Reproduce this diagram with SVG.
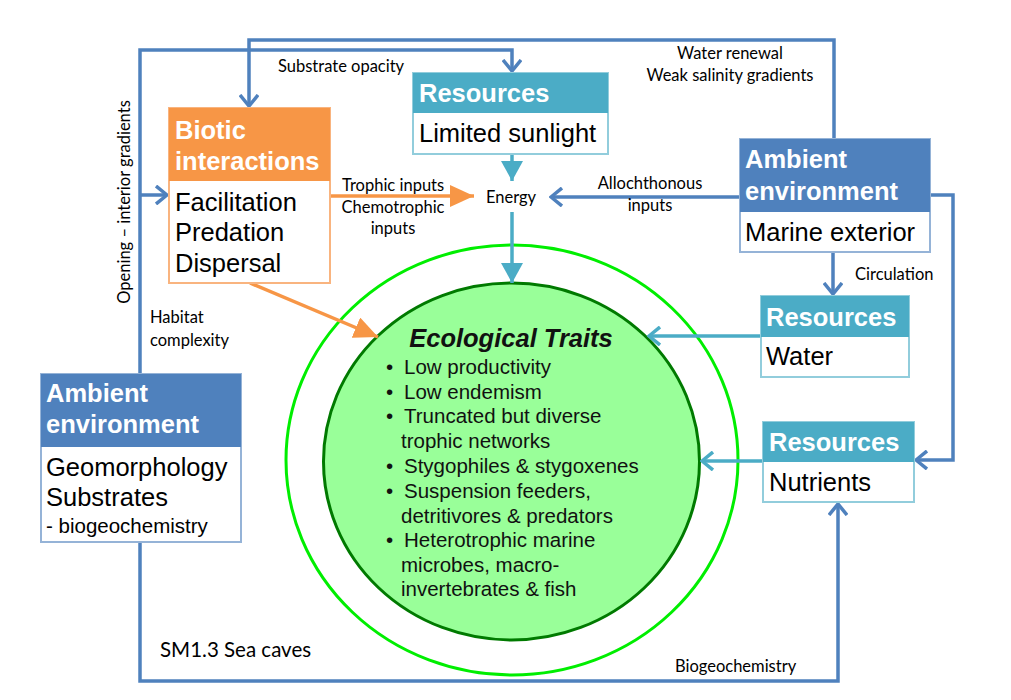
<svg xmlns="http://www.w3.org/2000/svg" width="1011" height="700" viewBox="0 0 1011 700">
<style>
.lbl{font-family:Lato,"Liberation Sans",sans-serif;font-size:16.5px;fill:#000}
.hdr{font-family:"Liberation Sans",Arial,sans-serif;font-size:25.5px;font-weight:bold;fill:#fff}
.body{font-family:"Liberation Sans",Arial,sans-serif;font-size:25.5px;fill:#000}
.trait{font-family:"Liberation Sans",Arial,sans-serif;font-size:20.5px;fill:#111}
.blue{fill:none;stroke:#4f81bd;stroke-width:3.5}
.teal{fill:none;stroke:#4bacc6;stroke-width:3.5}
.orange{fill:none;stroke:#f79646;stroke-width:3.5}
</style>
<defs>
<marker id="chevB" markerUnits="userSpaceOnUse" viewBox="0 0 14 20" refX="12" refY="10" markerWidth="14" markerHeight="20" orient="auto"><path d="M1,1 L12,10 L1,19" fill="none" stroke="#4f81bd" stroke-width="3.5"/></marker>
<marker id="chevT" markerUnits="userSpaceOnUse" viewBox="0 0 14 20" refX="12" refY="10" markerWidth="14" markerHeight="20" orient="auto"><path d="M1,1 L12,10 L1,19" fill="none" stroke="#4bacc6" stroke-width="3.5"/></marker>
<marker id="triT" markerUnits="userSpaceOnUse" viewBox="0 0 20 22" refX="20" refY="11" markerWidth="20" markerHeight="22" orient="auto"><path d="M0,0 L20,11 L0,22 Z" fill="#4bacc6"/></marker>
<marker id="triO" markerUnits="userSpaceOnUse" viewBox="0 0 24 22" refX="24" refY="11" markerWidth="24" markerHeight="22" orient="auto"><path d="M0,0 L24,11 L0,22 Z" fill="#f79646"/></marker>
</defs>

<g id="circles">
<ellipse cx="512" cy="460" rx="226" ry="215" fill="#fff" stroke="#00ee00" stroke-width="3"/>
<ellipse cx="511.5" cy="461.5" rx="188" ry="178.5" fill="#99ff99" stroke="#007a00" stroke-width="3"/>
</g>

<g id="connectors">
<path class="blue" d="M140,374 V50 H512 V71" marker-end="url(#chevB)"/>
<path class="blue" d="M140,195 H167" marker-end="url(#chevB)"/>
<path class="blue" d="M834,139 V40 H249 V106" marker-end="url(#chevB)"/>
<path class="blue" d="M740,197 H551" marker-end="url(#chevB)"/>
<path class="blue" d="M930,195 H953 V460 H916" marker-end="url(#chevB)"/>
<path class="blue" d="M833,252 V294" marker-end="url(#chevB)"/>
<path class="blue" d="M140,542 V681 H838 V504" marker-end="url(#chevB)"/>
<path class="teal" d="M512,154 V181" marker-end="url(#triT)"/>
<path class="teal" d="M512,212 V283" marker-end="url(#triT)"/>
<path class="teal" d="M761,336 H649" marker-end="url(#chevT)"/>
<path class="teal" d="M763,461 H702" marker-end="url(#chevT)"/>
<path class="orange" d="M330,196 H474" marker-end="url(#triO)"/>
<path class="orange" d="M250,283 L378,337" marker-end="url(#triO)"/>
</g>

<g id="labels">
<text class="lbl" x="278" y="72">Substrate opacity</text>
<text class="lbl" x="730" y="59" text-anchor="middle">Water renewal</text>
<text class="lbl" x="730" y="81" text-anchor="middle">Weak salinity gradients</text>
<text class="lbl" x="650" y="189" text-anchor="middle">Allochthonous</text>
<text class="lbl" x="650" y="211" text-anchor="middle">inputs</text>
<text class="lbl" x="342" y="191">Trophic inputs</text>
<text class="lbl" x="393" y="213" text-anchor="middle">Chemotrophic</text>
<text class="lbl" x="393" y="234" text-anchor="middle">inputs</text>
<text class="lbl" x="511" y="203" text-anchor="middle">Energy</text>
<text class="lbl" x="855" y="280">Circulation</text>
<text class="lbl" x="150" y="323">Habitat</text>
<text class="lbl" x="150" y="346">complexity</text>
<text class="lbl" transform="translate(130,202) rotate(-90)" text-anchor="middle">Opening – interior gradients</text>
<text class="lbl" x="160" y="657" style="font-size:20.5px">SM1.3 Sea caves</text>
<text class="lbl" x="675" y="672">Biogeochemistry</text>
</g>

<g id="biotic">
<rect x="169" y="108" width="161" height="175" fill="#fff" stroke="#f9b47f" stroke-width="2"/>
<rect x="169" y="108" width="161" height="73" fill="#f79646"/>
<text class="hdr" x="175" y="139">Biotic</text>
<text class="hdr" x="175" y="170">interactions</text>
<text class="body" x="175" y="211">Facilitation</text>
<text class="body" x="175" y="241">Predation</text>
<text class="body" x="175" y="272">Dispersal</text>
</g>

<g id="res-sunlight">
<rect x="413" y="73" width="195" height="81" fill="#fff" stroke="#92cddc" stroke-width="2"/>
<rect x="413" y="73" width="195" height="40" fill="#4bacc6"/>
<text class="hdr" x="419" y="102">Resources</text>
<text class="body" x="419" y="142">Limited sunlight</text>
</g>

<g id="amb-exterior">
<rect x="740" y="139" width="190" height="113" fill="#fff" stroke="#95b3d7" stroke-width="2"/>
<rect x="740" y="139" width="190" height="73" fill="#4f81bd"/>
<text class="hdr" x="745" y="168">Ambient</text>
<text class="hdr" x="745" y="200">environment</text>
<text class="body" x="745" y="241">Marine exterior</text>
</g>

<g id="res-water">
<rect x="761" y="296" width="148" height="81" fill="#fff" stroke="#92cddc" stroke-width="2"/>
<rect x="761" y="296" width="148" height="41" fill="#4bacc6"/>
<text class="hdr" x="766" y="326">Resources</text>
<text class="body" x="766" y="365">Water</text>
</g>

<g id="res-nutrients">
<rect x="763" y="422" width="151" height="80" fill="#fff" stroke="#92cddc" stroke-width="2"/>
<rect x="763" y="422" width="151" height="40" fill="#4bacc6"/>
<text class="hdr" x="769" y="451">Resources</text>
<text class="body" x="769" y="491">Nutrients</text>
</g>

<g id="amb-geomorph">
<rect x="41" y="374" width="200" height="168" fill="#fff" stroke="#95b3d7" stroke-width="2"/>
<rect x="41" y="374" width="200" height="73" fill="#4f81bd"/>
<text class="hdr" x="46" y="402">Ambient</text>
<text class="hdr" x="46" y="433">environment</text>
<text class="body" x="46" y="476">Geomorphology</text>
<text class="body" x="46" y="506">Substrates</text>
<text class="body" x="46" y="533" style="font-size:20.5px">- biogeochemistry</text>
</g>

<g id="traits">
<text x="511" y="347" text-anchor="middle" style="font-family:'Liberation Sans',Arial,sans-serif;font-size:25.5px;font-weight:bold;font-style:italic;fill:#111">Ecological Traits</text>
<g class="trait">
<text x="386" y="374">•</text><text x="404" y="374">Low productivity</text>
<text x="386" y="399">•</text><text x="404" y="399">Low endemism</text>
<text x="386" y="423">•</text><text x="404" y="423">Truncated but diverse</text>
<text x="401" y="448">trophic networks</text>
<text x="386" y="473">•</text><text x="404" y="473">Stygophiles &amp; stygoxenes</text>
<text x="386" y="498">•</text><text x="404" y="498">Suspension feeders,</text>
<text x="401" y="523">detritivores &amp; predators</text>
<text x="386" y="547">•</text><text x="404" y="547">Heterotrophic marine</text>
<text x="401" y="572">microbes, macro-</text>
<text x="401" y="596">invertebrates &amp; fish</text>
</g>
</g>
</svg>
